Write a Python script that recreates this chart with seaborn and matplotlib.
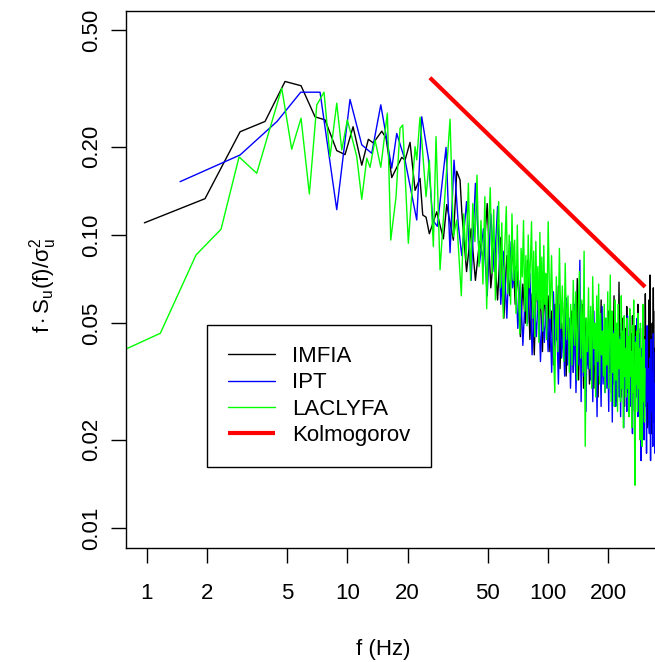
import numpy as np
import pandas as pd
import matplotlib
matplotlib.use("Agg")
import matplotlib.pyplot as plt
import seaborn as sns

# ---------------------------------------------------------------
# Data (frequency in Hz, f*Su(f)/sigma_u^2)
# ---------------------------------------------------------------
imfia_f_low = [0.973, 1.952, 2.919, 3.888, 4.891, 5.877, 6.902, 7.741, 8.855, 9.739,
               10.68, 11.80, 12.73, 13.48, 14.85, 15.60, 16.65, 18.67, 19.39, 20.54,
               21.76, 23.03, 23.76, 24.68, 25.63, 27.91, 30.11, 31.30, 33.77, 35.11, 36.47]
imfia_v_low = [0.110, 0.133, 0.225, 0.244, 0.334, 0.323, 0.253, 0.247, 0.194, 0.188,
               0.234, 0.173, 0.212, 0.206, 0.226, 0.214, 0.157, 0.184, 0.180, 0.207,
               0.142, 0.156, 0.117, 0.115, 0.101, 0.120, 0.097, 0.127, 0.096, 0.165, 0.154]
imfia_v_high = [
    0.120, 0.075, 0.105, 0.070, 0.095, 0.082, 0.128, 0.066, 0.090, 0.060, 0.098, 0.052, 0.085, 0.062, 0.094,
    0.058, 0.075, 0.045, 0.068, 0.050, 0.082, 0.044, 0.063, 0.039, 0.072, 0.052, 0.060, 0.040, 0.066, 0.048,
    0.062, 0.040, 0.055, 0.036, 0.058, 0.044, 0.067, 0.035, 0.050, 0.041, 0.060, 0.033, 0.052, 0.046, 0.038,
    0.055, 0.034, 0.050, 0.040, 0.071, 0.032, 0.048, 0.038, 0.058, 0.030, 0.046, 0.052, 0.036, 0.049, 0.031,
    0.050, 0.036, 0.058, 0.030, 0.044, 0.039, 0.054, 0.028, 0.047, 0.035, 0.060, 0.033, 0.043, 0.037, 0.052,
    0.034, 0.048, 0.031, 0.055, 0.038, 0.044, 0.029, 0.050, 0.036, 0.062, 0.032, 0.045, 0.027, 0.049, 0.037,
    0.069, 0.033, 0.046, 0.028, 0.052, 0.036, 0.041, 0.026, 0.048, 0.034, 0.057, 0.030, 0.043, 0.035, 0.050,
    0.031, 0.046, 0.027, 0.053, 0.035, 0.042, 0.025, 0.049, 0.033, 0.040, 0.029, 0.058, 0.032, 0.044, 0.026,
    0.048, 0.030, 0.041, 0.024, 0.052, 0.034, 0.045, 0.027, 0.063, 0.031, 0.039, 0.022, 0.047, 0.033, 0.060,
    0.028, 0.073, 0.032, 0.045, 0.021, 0.050, 0.030, 0.066, 0.026, 0.041, 0.020, 0.055, 0.029, 0.038, 0.024,
]

ipt_f_low = [1.466, 2.919, 4.462, 5.857, 7.31, 8.855, 10.31, 11.80, 13.23, 14.68, 16.65,
             17.63, 19.39, 22.18, 23.49, 25.34, 26.66, 28.10, 31.05, 32.51, 34.03, 35.76]
ipt_v_low = [0.152, 0.1875, 0.244, 0.307, 0.307, 0.122, 0.290, 0.203, 0.190, 0.278, 0.169,
             0.222, 0.180, 0.1125, 0.253, 0.183, 0.1125, 0.107, 0.199, 0.087, 0.180, 0.108]
ipt_v_high = [
    0.085, 0.130, 0.070, 0.150, 0.080, 0.105, 0.062, 0.118, 0.075, 0.125, 0.058, 0.088, 0.052, 0.095, 0.066,
    0.078, 0.048, 0.070, 0.042, 0.062, 0.050, 0.074, 0.039, 0.058, 0.045, 0.066, 0.037, 0.055, 0.043, 0.061,
    0.040, 0.056, 0.034, 0.064, 0.042, 0.050, 0.031, 0.058, 0.038, 0.047, 0.033, 0.061, 0.036, 0.052, 0.030,
    0.049, 0.034, 0.058, 0.029, 0.045, 0.036, 0.082, 0.027, 0.053, 0.033, 0.047, 0.025, 0.050, 0.035, 0.043,
    0.032, 0.048, 0.027, 0.055, 0.036, 0.044, 0.024, 0.051, 0.033, 0.040, 0.026, 0.057, 0.031, 0.046, 0.029,
    0.050, 0.030, 0.043, 0.025, 0.054, 0.034, 0.039, 0.023, 0.047, 0.031, 0.058, 0.026, 0.042, 0.033, 0.048,
    0.028, 0.045, 0.024, 0.050, 0.032, 0.041, 0.022, 0.047, 0.030, 0.038, 0.025, 0.053, 0.029, 0.043, 0.027,
    0.044, 0.026, 0.039, 0.021, 0.048, 0.031, 0.036, 0.020, 0.045, 0.028, 0.052, 0.024, 0.040, 0.030, 0.046,
    0.025, 0.017, 0.041, 0.022, 0.047, 0.029, 0.020, 0.044, 0.026, 0.038, 0.018, 0.049, 0.027, 0.035, 0.023,
    0.021, 0.038, 0.017, 0.044, 0.025, 0.034, 0.019, 0.046, 0.023, 0.031, 0.018, 0.040, 0.022, 0.029, 0.026,
]

laclyfa_f_low = [0.586, 1.169, 1.761, 2.346, 2.885, 3.535, 4.71, 5.28, 5.877, 6.466,
                 7.04, 7.65, 8.20, 8.855, 9.38, 10.0, 10.71, 11.14, 11.80, 12.50,
                 12.98, 13.74, 14.68, 15.83, 16.46, 17.49, 18.31, 18.89, 20.14, 21.76,
                 22.18, 23.03, 24.68, 25.63, 26.84, 27.68, 28.98, 30.69, 32.51, 33.77, 35.11]
laclyfa_v_low = [0.0372, 0.0462, 0.0855, 0.1046, 0.1846, 0.1624, 0.3168, 0.1961, 0.2502, 0.138,
                 0.2778, 0.307, 0.185, 0.2816, 0.195, 0.2469, 0.206, 0.185, 0.1324, 0.1827,
                 0.1702, 0.211, 0.1702, 0.2603, 0.0961, 0.1351, 0.2313, 0.2373, 0.0937, 0.2001,
                 0.1803, 0.2522, 0.1351, 0.1803, 0.0912, 0.2165, 0.076, 0.1388, 0.2483, 0.0987, 0.1125]
laclyfa_v_mid = [
    0.062, 0.118, 0.082, 0.150, 0.070, 0.128, 0.095, 0.160, 0.078, 0.112,
    0.068, 0.135, 0.056, 0.104, 0.145, 0.074, 0.122, 0.060, 0.098, 0.130,
    0.066, 0.110, 0.052, 0.092, 0.125, 0.063, 0.100, 0.058, 0.118, 0.070,
    0.096, 0.054, 0.108, 0.062, 0.046, 0.090, 0.072, 0.112, 0.055, 0.085,
    0.049, 0.100, 0.066, 0.082, 0.111, 0.052, 0.088, 0.045, 0.095, 0.060,
    0.078, 0.043, 0.102, 0.056, 0.084, 0.047, 0.092, 0.058, 0.074, 0.044,
]
laclyfa_v_high = [
    0.111, 0.052, 0.085, 0.045, 0.029, 0.072, 0.040, 0.090, 0.048, 0.067, 0.037, 0.080, 0.044, 0.062, 0.034,
    0.058, 0.036, 0.070, 0.042, 0.064, 0.032, 0.055, 0.075, 0.038, 0.060, 0.034, 0.088, 0.019, 0.052, 0.040,
    0.066, 0.035, 0.057, 0.030, 0.072, 0.041, 0.050, 0.028, 0.062, 0.037, 0.068, 0.031, 0.054, 0.039, 0.047,
    0.033, 0.058, 0.029, 0.052, 0.036, 0.064, 0.030, 0.048, 0.073, 0.027, 0.055, 0.034, 0.046, 0.026, 0.060,
    0.032, 0.050, 0.025, 0.058, 0.035, 0.044, 0.027, 0.062, 0.030, 0.047, 0.022, 0.053, 0.033, 0.041, 0.028,
    0.052, 0.030, 0.045, 0.024, 0.056, 0.033, 0.040, 0.022, 0.049, 0.029, 0.060, 0.026, 0.014, 0.043, 0.031,
    0.047, 0.025, 0.054, 0.030, 0.041, 0.020, 0.050, 0.028, 0.038, 0.019, 0.058, 0.027, 0.044, 0.023, 0.035,
]

# dense part sits on an even frequency grid (FFT bins)
imfia_f_high = np.linspace(37.2, 350, len(imfia_v_high))
ipt_f_high = np.linspace(37.2, 350, len(ipt_v_high))
laclyfa_f_mid = np.linspace(37.0, 98.5, len(laclyfa_v_mid))
laclyfa_f_high = np.linspace(100.3, 305, len(laclyfa_v_high))

kolmo_f = [25.8, 305]
kolmo_v = [0.344, 0.0665]

x_ticks = [1, 2, 5, 10, 20, 50, 100, 200]
y_ticks = [0.01, 0.02, 0.05, 0.10, 0.20, 0.50]

# ---------------------------------------------------------------
# Style
# ---------------------------------------------------------------
sns.set_style("ticks")
plt.rcParams["font.family"] = ["Liberation Sans", "DejaVu Sans"]
plt.rcParams["text.color"] = "black"
plt.rcParams["mathtext.fontset"] = "custom"
plt.rcParams["mathtext.rm"] = "Liberation Sans"
plt.rcParams["mathtext.it"] = "Liberation Sans:italic"
plt.rcParams["mathtext.bf"] = "Liberation Sans:bold"

FS = 16

fig = plt.figure(figsize=(6.55, 6.62), dpi=100)
W, H = 655, 662
ax = fig.add_axes([126 / W, (H - 548) / H, (660 - 126) / W, (548 - 11) / H])

series = [
    ("IMFIA", list(imfia_f_low) + list(imfia_f_high),
     imfia_v_low + imfia_v_high, "black"),
    ("IPT", list(ipt_f_low) + list(ipt_f_high),
     ipt_v_low + ipt_v_high, "#0000FF"),
    ("LACLYFA", list(laclyfa_f_low) + list(laclyfa_f_mid) + list(laclyfa_f_high),
     laclyfa_v_low + laclyfa_v_mid + laclyfa_v_high, "#00FF00"),
]

for name, f, v, col in series:
    df = pd.DataFrame({"f": f, "v": v})
    sns.lineplot(data=df, x="f", y="v", ax=ax, color=col, lw=1.0,
                 estimator=None, sort=False, label=name)

kdf = pd.DataFrame({"f": kolmo_f, "v": kolmo_v})
sns.lineplot(data=kdf, x="f", y="v", ax=ax, color="#FF0000", lw=3.0,
             estimator=None, sort=False, label="Kolmogorov",
             solid_capstyle="butt")

ax.set_xscale("log")
ax.set_yscale("log")
ax.set_xlim(0.788, 362)
ax.set_ylim(0.00855, 0.581)

ax.xaxis.set_major_locator(matplotlib.ticker.FixedLocator(x_ticks))
ax.xaxis.set_minor_locator(matplotlib.ticker.NullLocator())
ax.set_xticklabels([str(t) for t in x_ticks])
ax.yaxis.set_major_locator(matplotlib.ticker.FixedLocator(y_ticks))
ax.yaxis.set_minor_locator(matplotlib.ticker.NullLocator())
ax.set_yticklabels([f"{t:.2f}" for t in y_ticks])

ax.tick_params(axis="both", direction="out", length=10.5, width=1.0,
               labelsize=FS, color="black", labelcolor="black")
ax.tick_params(axis="x", pad=15)
ax.tick_params(axis="y", pad=6.5, labelrotation=90)
for lab in ax.get_yticklabels():
    lab.set_va("center")

for sp in ax.spines.values():
    sp.set_visible(True)
    sp.set_linewidth(1.0)
    sp.set_color("black")

ax.set_xlabel("")
ax.set_ylabel("")
fig.text(383 / W, 1 - 649 / H, "f (Hz)", ha="center", va="center", fontsize=FS)
fig.text(43 / W, 1 - 285 / H,
         r"$\mathrm{f}\cdot\mathrm{S_u(f)/}\mathrm{\sigma_u^2}$",
         ha="center", va="center", rotation=90, fontsize=FS)

leg = ax.legend(loc="upper left", bbox_to_anchor=(207 / W, 1 - 325 / H),
                bbox_transform=fig.transFigure, borderaxespad=0,
                frameon=True, fancybox=False, framealpha=1, edgecolor="black",
                fontsize=FS, handlelength=2.1, handletextpad=0.76,
                borderpad=0.95, labelspacing=0.24)
leg.get_frame().set_linewidth(1.0)

fig.savefig("out.png", dpi=100, facecolor="white")
